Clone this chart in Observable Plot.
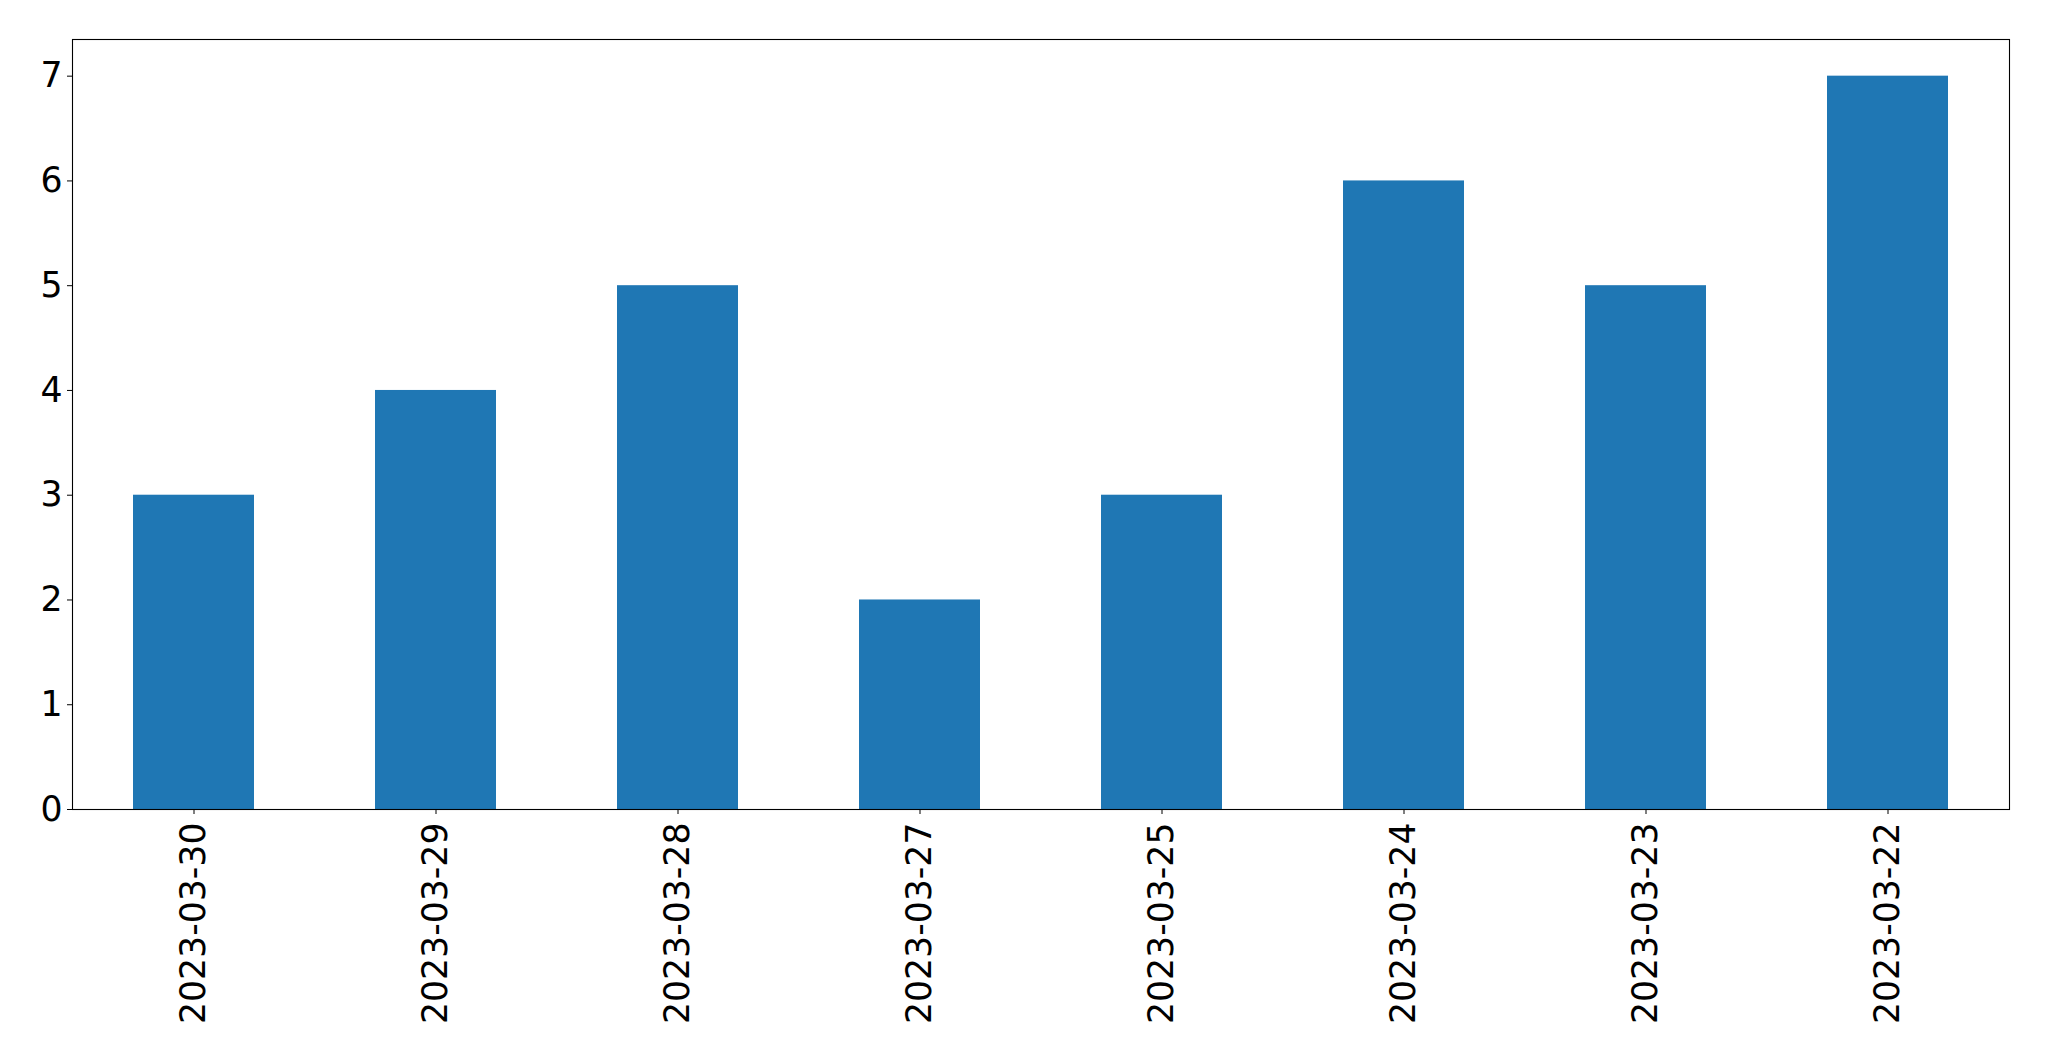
<!DOCTYPE html>
<html>
<head>
<meta charset="utf-8">
<script src="https://cdn.jsdelivr.net/npm/d3@7"></script>
<script src="https://cdn.jsdelivr.net/npm/@observablehq/plot@0.6"></script>
<style>
  html, body { margin: 0; padding: 0; background: #fff; }
  #chart svg { display: block; }
</style>
</head>
<body>
<div id="chart"></div>
<script>
const dates = ["2023-03-30", "2023-03-29", "2023-03-28", "2023-03-27", "2023-03-25", "2023-03-24", "2023-03-23", "2023-03-22"];
const counts = [3, 4, 5, 2, 3, 6, 5, 7];
const yTicks = [0, 1, 2, 3, 4, 5, 6, 7];

const data = dates.map((d, i) => ({date: d, count: counts[i]}));

const chart = Plot.plot({
  width: 2049,
  height: 1061,
  marginLeft: 72,
  marginRight: 40,
  marginTop: 39,
  marginBottom: 252,
  style: {fontFamily: "DejaVu Sans", fontSize: "34.7px", color: "black", background: "white"},
  x: {domain: dates, paddingInner: 0.5, paddingOuter: 0.25, label: null},
  y: {domain: [0, 7.35], label: null},
  marks: [
    Plot.barY(data, {x: "date", y: "count", fill: "#1f77b4"}),
    Plot.axisY({ticks: yTicks, tickFormat: d => String(d), tickSize: 5, tickPadding: 5, fontSize: 34.7, label: null}),
    Plot.axisX({tickRotate: -90, tickSize: 5, tickPadding: 8, fontSize: 34.7, label: null}),
    Plot.frame({stroke: "black", strokeWidth: 1.1})
  ]
});
document.getElementById("chart").appendChild(chart);
</script>
</body>
</html>
